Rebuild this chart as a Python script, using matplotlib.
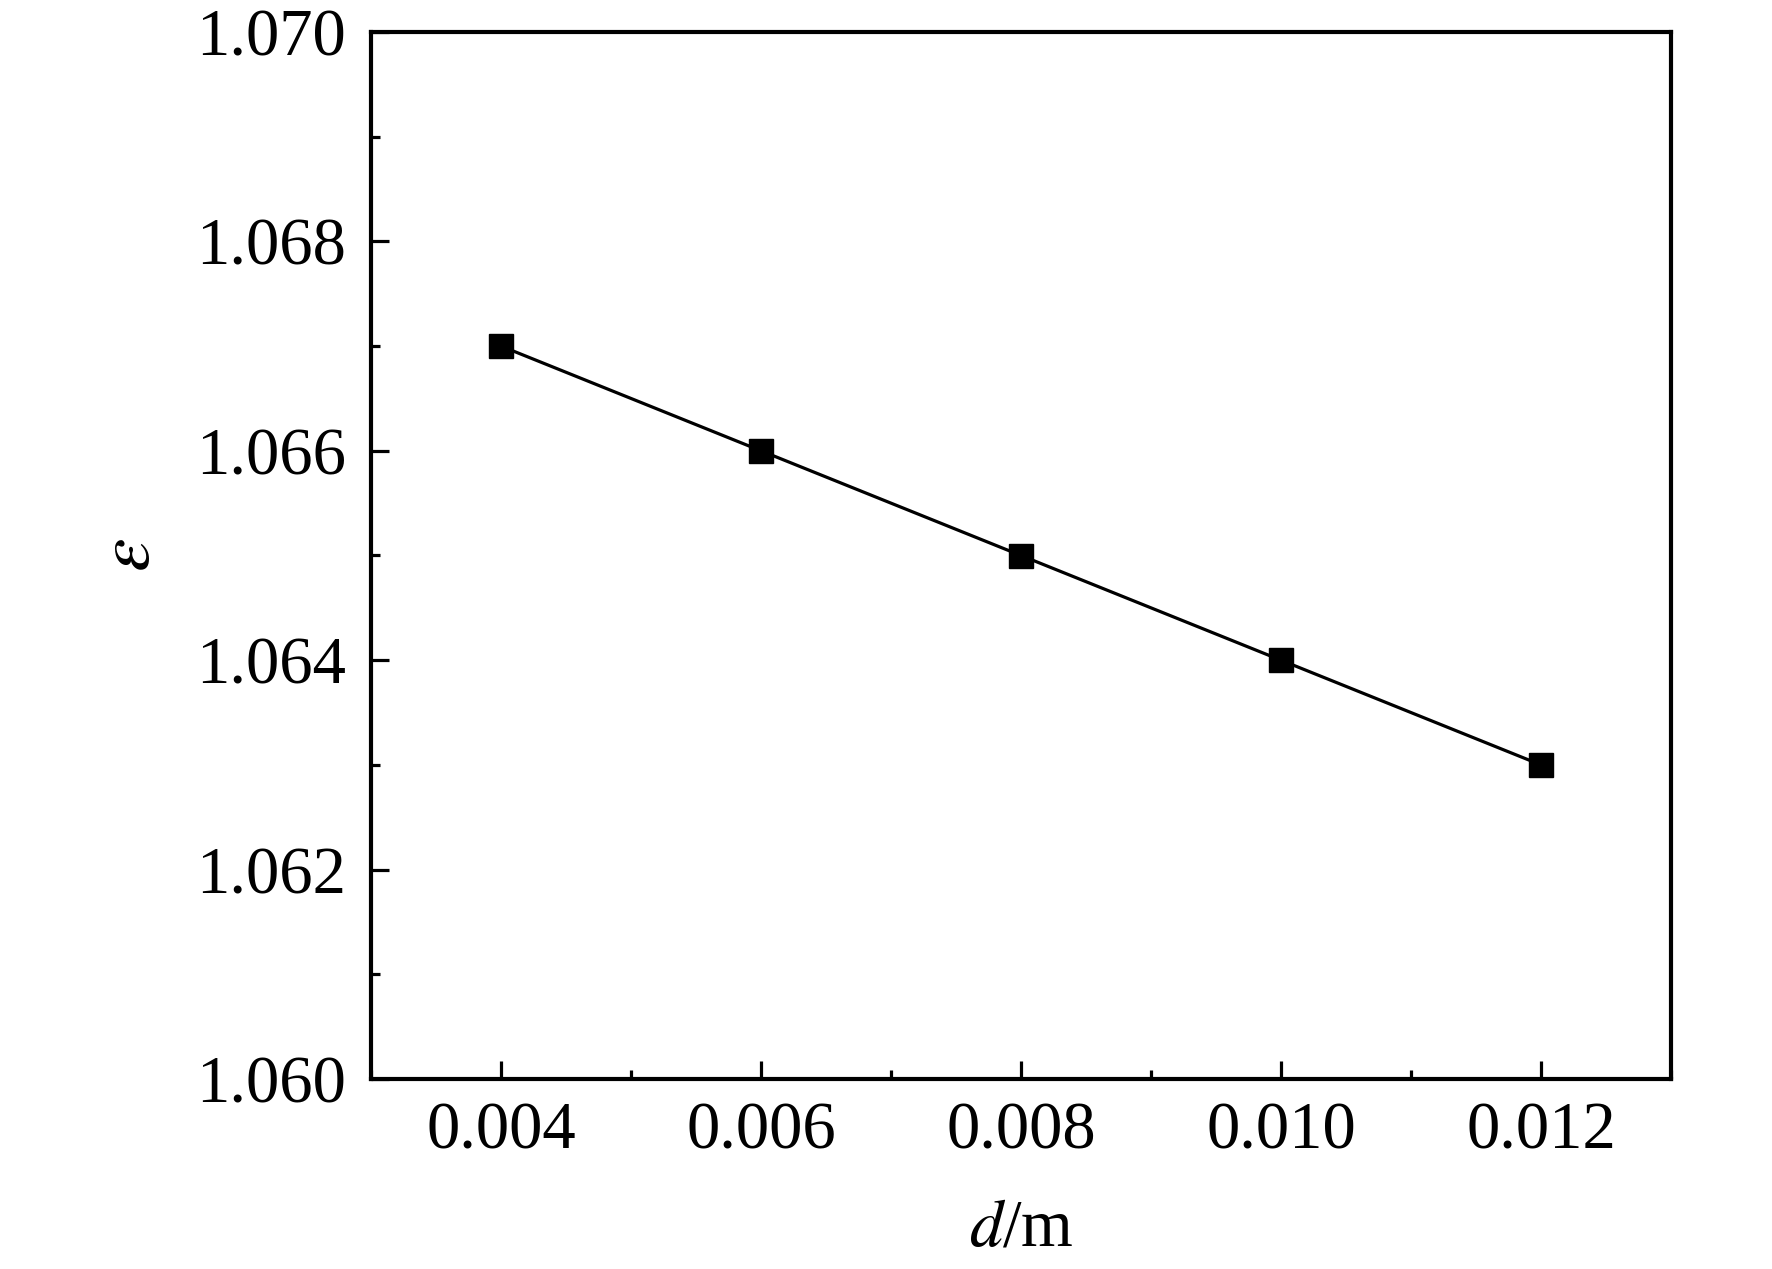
import numpy as np
import matplotlib.pyplot as plt
from matplotlib.ticker import MultipleLocator, FormatStrFormatter

# data
d_values = [0.004, 0.006, 0.008, 0.010, 0.012]
eps_values = [1.067, 1.066, 1.065, 1.064, 1.063]

plt.rcParams['font.family'] = ['Liberation Serif', 'DejaVu Serif']
plt.rcParams['mathtext.fontset'] = 'stix'

fig = plt.figure(figsize=(17.72, 12.69), dpi=100)
ax = fig.add_axes([371 / 1772, 1 - 1079 / 1269, 1300 / 1772, 1047 / 1269])

ax.plot(d_values, eps_values, color='black', linewidth=2.3,
        marker='s', markersize=17, markerfacecolor='black', markeredgecolor='black')

ax.set_xlim(0.003, 0.013)
ax.set_ylim(1.060, 1.070)
ax.xaxis.set_major_locator(MultipleLocator(0.002))
ax.xaxis.set_minor_locator(MultipleLocator(0.001))
ax.yaxis.set_major_locator(MultipleLocator(0.002))
ax.yaxis.set_minor_locator(MultipleLocator(0.001))
ax.xaxis.set_major_formatter(FormatStrFormatter('%.3f'))
ax.yaxis.set_major_formatter(FormatStrFormatter('%.3f'))

for side in ax.spines.values():
    side.set_linewidth(3.0)

ax.tick_params(which='both', direction='in', top=False, right=False, labelsize=48)
ax.tick_params(which='major', length=13, width=2.3)
ax.tick_params(which='minor', length=6.5, width=2.3)
ax.tick_params(axis='y', pad=18)
ax.tick_params(axis='x', pad=16)

ax.set_xlabel(r'$d$/m', fontsize=48, labelpad=26)
ax.set_ylabel(r'$\varepsilon$', fontsize=54, labelpad=22)

fig.savefig('out.png', dpi=100)
